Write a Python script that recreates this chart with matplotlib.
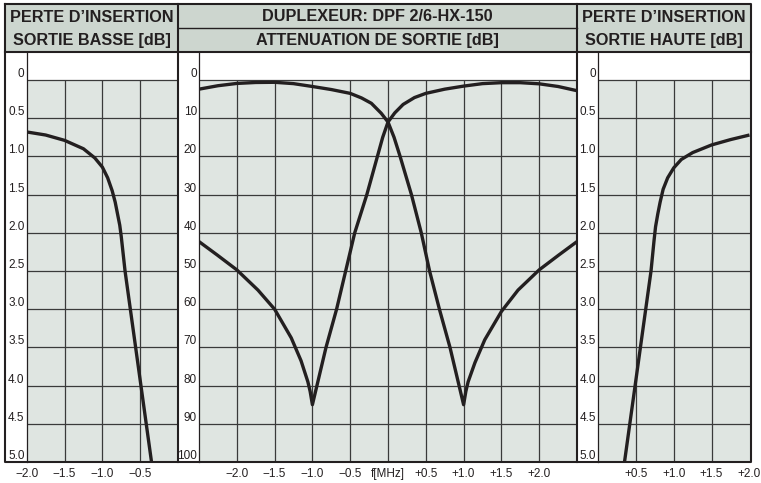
import matplotlib
matplotlib.use("Agg")
from matplotlib import pyplot as plt
from matplotlib.patches import Rectangle
from matplotlib.lines import Line2D

# --- data ---
# low output insertion loss (x in MHz, loss in dB)
low_f = [-2.0, -1.75, -1.5, -1.25, -1.1, -1.0, -0.93, -0.87, -0.83, -0.80, -0.77, -0.75,
         -0.70, -0.63, -0.56, -0.49, -0.42, -0.35]
low_db = [0.68, 0.72, 0.79, 0.90, 1.02, 1.14, 1.28, 1.45, 1.60, 1.75, 1.90, 2.05,
          2.50, 3.0, 3.5, 4.0, 4.5, 5.0]

# high output insertion loss
high_f = [0.35, 0.42, 0.49, 0.56, 0.63, 0.70, 0.74, 0.76, 0.79, 0.82, 0.86, 0.92, 1.0,
          1.1, 1.25, 1.5, 1.75, 2.0]
high_db = [5.0, 4.5, 4.0, 3.5, 3.0, 2.5, 2.1, 1.92, 1.75, 1.60, 1.43, 1.28, 1.15,
           1.04, 0.95, 0.85, 0.78, 0.72]

# attenuation, low-pass branch
lp_f = [-2.5, -2.25, -2.0, -1.75, -1.5, -1.25, -1.0, -0.75, -0.5, -0.35, -0.22, -0.09, 0.0,
        0.08, 0.16, 0.31, 0.44, 0.55, 0.68, 0.82, 0.94, 1.0,
        1.03, 1.06, 1.15, 1.28, 1.5, 1.72, 2.0, 2.26, 2.5]
lp_db = [2.4, 1.5, 0.9, 0.65, 0.6, 0.95, 1.7, 2.5, 3.5, 4.7, 6.1, 8.7, 11.0,
         15.0, 20, 30, 40, 50, 60, 70, 80, 85,
         81.5, 79, 74, 68, 60.6, 55, 49.7, 45.8, 42.3]

# attenuation, high-pass branch
hp_f = [-2.5, -2.26, -2.0, -1.72, -1.5, -1.28, -1.15, -1.06, -1.03, -1.0,
        -0.94, -0.82, -0.68, -0.56, -0.44, -0.28, -0.14, -0.07, 0.0,
        0.09, 0.2, 0.35, 0.5, 0.75, 1.0, 1.25, 1.5, 1.75, 2.0, 2.25, 2.5]
hp_db = [42.3, 45.8, 49.7, 55, 60, 67.5, 73.5, 79, 81.5, 85,
         80, 70, 60, 50, 40, 30, 20, 15.0, 11.0,
         8.6, 6.4, 4.6, 3.5, 2.4, 1.6, 0.95, 0.7, 0.7, 1.0, 1.7, 2.8]

left_ticks = [-2.0, -1.5, -1.0, -0.5]
left_labels = ["\u22122.0", "\u22121.5", "\u22121.0", "\u22120.5"]
mid_ticks = [-2.0, -1.5, -1.0, -0.5, 0.0, 0.5, 1.0, 1.5, 2.0]
mid_labels = ["\u22122.0", "\u22121.5", "\u22121.0", "\u22120.5", "f[MHz]", "+0.5", "+1.0", "+1.5", "+2.0"]
right_ticks = [0.5, 1.0, 1.5, 2.0]
right_labels = ["+0.5", "+1.0", "+1.5", "+2.0"]
loss_ticks = [0.0, 0.5, 1.0, 1.5, 2.0, 2.5, 3.0, 3.5, 4.0, 4.5, 5.0]
loss_labels = ["0", "0.5", "1.0", "1.5", "2.0", "2.5", "3.0", "3.5", "4.0", "4.5", "5.0"]
att_ticks = [0, 10, 20, 30, 40, 50, 60, 70, 80, 90, 100]
att_labels = ["0", "10", "20", "30", "40", "50", "60", "70", "80", "90", "100"]

# --- layout (pixels) ---
W, H = 761, 483
X0, B1, B2, X1 = 5, 178, 577, 751
Y_TOP, Y_MID, Y_HEAD, Y_ZERO, Y_BOT = 4, 28, 52, 80, 462

HEAD = "#cdd6cf"
PLOT = "#dfe5e1"
INK = "#231f20"
GRID = "#3a3a3a"

plt.rcParams["font.family"] = ["Liberation Sans", "DejaVu Sans"]

fig = plt.figure(figsize=(W / 100, H / 100), dpi=100, facecolor="white")


def fx(px):
    return px / W


def fy(py):
    return 1 - py / H


def panel(x_left, x_right, xlim, ymax, xticks, xlabels, yticks, ylabels, grid_x):
    ax = fig.add_axes([fx(x_left), fy(Y_BOT), fx(x_right) - fx(x_left), fy(Y_HEAD) - fy(Y_BOT)])
    top = -ymax * (Y_ZERO - Y_HEAD) / (Y_BOT - Y_ZERO)
    ax.set_xlim(*xlim)
    ax.set_ylim(ymax, top)
    ax.set_facecolor("white")
    ax.axhspan(0, ymax, color=PLOT, lw=0, zorder=0)
    ax.vlines(grid_x, 0, ymax, color=GRID, lw=0.9, zorder=1)
    ax.hlines(yticks, xlim[0], xlim[1], color=GRID, lw=0.9, zorder=1)
    ax.set_xticks(xticks, xlabels)
    ax.set_yticks(yticks, ylabels)
    ax.tick_params(length=0, labelsize=8.5, colors=INK)
    ax.tick_params(axis="y", pad=1.5)
    ax.tick_params(axis="x", pad=4)
    for t in ax.get_yticklabels():
        t.set_verticalalignment("bottom")
    for s in ["top", "right", "bottom"]:
        ax.spines[s].set_visible(False)
    ax.spines["left"].set_color(INK)
    ax.spines["left"].set_linewidth(0.9)
    return ax


curve_kw = dict(color=INK, lw=2.4, zorder=3, solid_joinstyle="round", solid_capstyle="butt")

ax1 = panel(26.7, B1, (-2.0, 0.0), 5.0, left_ticks, left_labels, loss_ticks, loss_labels,
            [-1.5, -1.0, -0.5])
ax1.plot(low_f, low_db, **curve_kw)

ax2 = panel(199, B2, (-2.5, 2.5), 100, mid_ticks, mid_labels, att_ticks, att_labels, mid_ticks)
ax2.plot(lp_f, lp_db, **curve_kw)
ax2.plot(hp_f, hp_db, **curve_kw)

ax3 = panel(598, X1, (0.0, 2.02), 5.0, right_ticks, right_labels, loss_ticks, loss_labels,
            [0.5, 1.0, 1.5])
ax3.plot(high_f, high_db, **curve_kw)

# header background
fig.add_artist(Rectangle((fx(X0), fy(Y_HEAD)), fx(X1) - fx(X0), fy(Y_TOP) - fy(Y_HEAD),
                         transform=fig.transFigure, facecolor=HEAD, edgecolor="none", zorder=0))


def line(xs, ys, lw=1.5):
    fig.add_artist(Line2D([fx(x) for x in xs], [fy(y) for y in ys], color=INK, lw=lw,
                          transform=fig.transFigure, zorder=5, solid_capstyle="projecting"))


line([X0, X1, X1, X0, X0], [Y_TOP, Y_TOP, Y_BOT, Y_BOT, Y_TOP])
line([X0, X1], [Y_HEAD, Y_HEAD])
line([B1, B1], [Y_TOP, Y_BOT])
line([B2, B2], [Y_TOP, Y_BOT])
line([B1, B2], [Y_MID, Y_MID], lw=1.0)

head_kw = dict(fontsize=11.7, fontweight="bold", color=INK, ha="center", va="center",
               transform=fig.transFigure)
fig.text(fx((X0 + B1) / 2), fy(17), "PERTE D\u2019INSERTION", **head_kw)
fig.text(fx((X0 + B1) / 2), fy(40), "SORTIE BASSE [dB]", **head_kw)
fig.text(fx((B1 + B2) / 2), fy(16.5), "DUPLEXEUR: DPF 2/6-HX-150", **head_kw)
fig.text(fx((B1 + B2) / 2), fy(41), "ATTENUATION DE SORTIE [dB]", **head_kw)
fig.text(fx((B2 + X1) / 2), fy(17), "PERTE D\u2019INSERTION", **head_kw)
fig.text(fx((B2 + X1) / 2), fy(40), "SORTIE HAUTE [dB]", **head_kw)

fig.savefig("out.png", dpi=100)
